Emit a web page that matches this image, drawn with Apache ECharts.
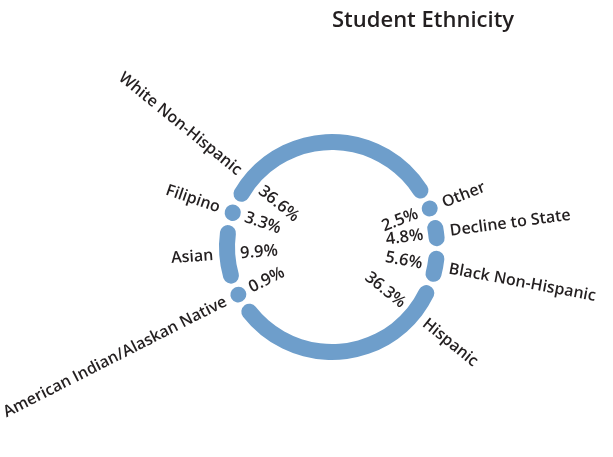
<!DOCTYPE html>
<html>
<head>
<meta charset="utf-8">
<script src="https://cdn.jsdelivr.net/npm/echarts@6/dist/echarts.min.js"></script>
<style>
  html, body { margin: 0; padding: 0; background: #ffffff; }
  #main { width: 613px; height: 457px; }
</style>
</head>
<body>
<div id="main"></div>
<script>
// ---- Data ----
const categories = [
  'Other',
  'Decline to State',
  'Black Non-Hispanic',
  'Hispanic',
  'American Indian/Alaskan Native',
  'Asian',
  'Filipino',
  'White Non-Hispanic'
];
const percentages = [2.5, 4.8, 5.6, 36.3, 0.9, 9.9, 3.3, 36.6];
const chartTitle = 'Student Ethnicity';

// ---- Styling ----
const RING = '#6e9ecb';
const TEXT = '#231f20';
const FONT = 'Open Sans';
const CENTER = [332, 247];
const R_IN = 97, R_OUT = 113;
const MAX_TILT = 39; // labels kept within this tilt from the horizontal

const seriesData = categories.map((c, i) => ({ name: c, value: percentages[i] }));

const chart = echarts.init(document.getElementById('main'), null, { renderer: 'canvas' });

function makeLayout(kind) {
  return function (params) {
    const model = chart.getModel();
    const s = model.getSeriesByIndex(params.seriesIndex);
    const lay = s.getData().getItemLayout(params.dataIndex);
    if (!lay) return {};
    const midCanvas = (lay.startAngle + lay.endAngle) / 2;
    let deg = -midCanvas * 180 / Math.PI;
    deg = ((deg % 360) + 540) % 360 - 180; // (-180, 180]
    const left = Math.cos(deg * Math.PI / 180) < 0;
    let dev = left ? (deg > 0 ? 180 - deg : -180 - deg) : deg; // tilt from horizontal
    dev = Math.max(-MAX_TILT, Math.min(MAX_TILT, dev));
    const ang = left ? 180 - dev : dev;
    const a = -ang * Math.PI / 180;
    const cx = lay.cx, cy = lay.cy;
    let rad, align;
    if (kind === 'name') {
      rad = lay.r + 6;
      align = left ? 'right' : 'left';
    } else {
      rad = lay.r0 - 5;
      align = left ? 'left' : 'right';
    }
    const rot = left ? ang - 180 : ang;
    return {
      x: cx + rad * Math.cos(a),
      y: cy + rad * Math.sin(a),
      rotate: rot,
      align: align,
      verticalAlign: 'middle'
    };
  };
}

const common = {
  type: 'pie',
  center: CENTER,
  radius: [R_IN, R_OUT],
  startAngle: 27,
  clockwise: true,
  padAngle: 2.5,
  minAngle: 8.5,
  avoidLabelOverlap: false,
  animation: false,
  labelLine: { show: false },
  emphasis: { disabled: true },
  data: seriesData
};

chart.setOption({
  backgroundColor: '#ffffff',
  title: {
    text: chartTitle,
    left: 332,
    top: 10,
    padding: 0,
    textStyle: { fontFamily: FONT, fontSize: 22, fontWeight: 600, color: TEXT }
  },
  series: [
    Object.assign({}, common, {
      name: 'ring',
      itemStyle: { color: RING, borderRadius: 8 },
      label: {
        show: true,
        position: 'outside',
        formatter: '{b}',
        fontFamily: FONT,
        fontSize: 16,
        fontWeight: 600,
        color: TEXT
      },
      labelLayout: makeLayout('name')
    }),
    Object.assign({}, common, {
      name: 'pct',
      silent: true,
      itemStyle: { color: 'rgba(0,0,0,0)', borderRadius: 8 },
      label: {
        show: true,
        position: 'outside',
        formatter: '{c}%',
        fontFamily: FONT,
        fontSize: 16.5,
        fontWeight: 600,
        color: TEXT
      },
      labelLayout: makeLayout('pct')
    })
  ]
});
</script>
</body>
</html>
